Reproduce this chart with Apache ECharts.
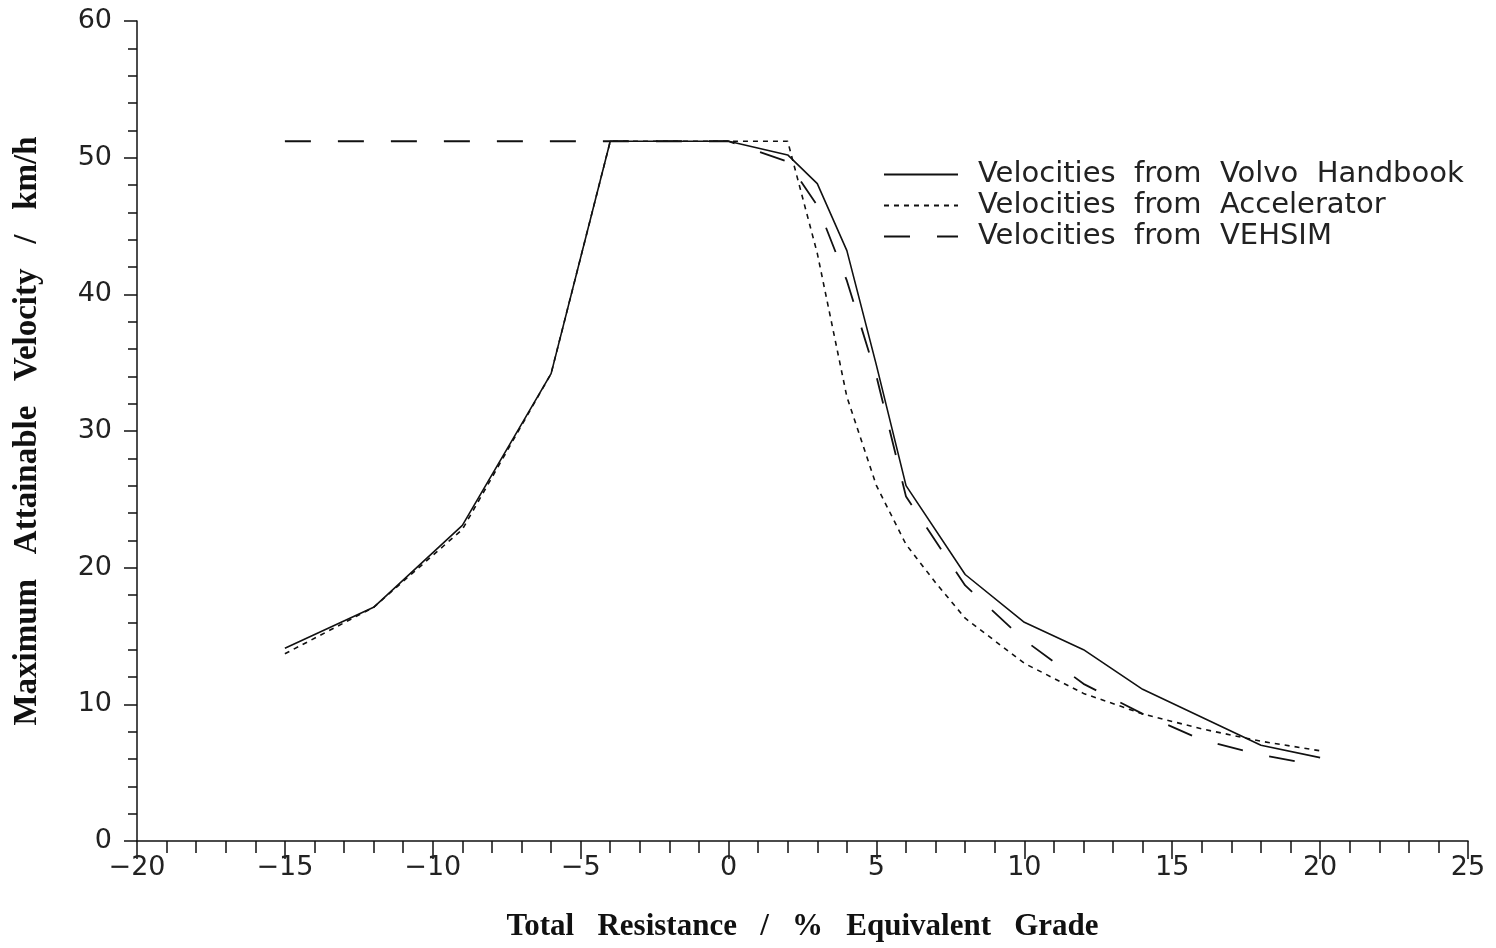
<!DOCTYPE html>
<html>
<head>
<meta charset="utf-8">
<script src="https://cdn.jsdelivr.net/npm/echarts@6/dist/echarts.min.js"></script>
<style>
  html, body { margin: 0; padding: 0; background: #fff; }
  #chart { width: 1496px; height: 948px; }
</style>
</head>
<body>
<div id="chart"></div>
<script>
// grade (% equivalent) vs max attainable velocity (km/h)
const volvoX = [-15, -12, -9, -6, -4, 0, 2, 3, 4, 5, 6, 8, 10, 12, 14, 18, 20];
const volvoY = [14.1, 17.1, 23.1, 34.2, 51.2, 51.2, 50.2, 48.1, 43.2, 34.8, 26.0, 19.5, 16.0, 14.0, 11.1, 7.0, 6.1];

const accelX = [-15, -12, -9, -6, -4, 0, 2, 3, 4, 5, 6, 7, 8, 10, 12, 14, 16, 18, 20];
const accelY = [13.7, 17.1, 22.8, 34.2, 51.2, 51.2, 51.2, 43.0, 32.5, 26.0, 21.7, 18.9, 16.3, 13.0, 10.8, 9.3, 8.2, 7.3, 6.6];

const vehsimX = [-15, 0, 2, 3, 4, 5, 6, 8, 10, 12, 14, 16, 18, 20];
const vehsimY = [51.2, 51.2, 49.7, 46.5, 41.0, 34.0, 25.2, 18.7, 14.7, 11.5, 9.3, 7.4, 6.3, 5.5];

const seriesNames = [
  "Velocities  from  Volvo  Handbook",
  "Velocities  from  Accelerator",
  "Velocities  from  VEHSIM",
];

const pairs = (xs, ys) => xs.map((x, i) => [x, ys[i]]);

const chart = echarts.init(document.getElementById("chart"));

const ink = "#111";
const tickFont = {
  fontFamily: "DejaVu Sans",
  fontSize: 27,
  color: "#222",
};
const titleFont = {
  fontFamily: "Liberation Serif",
  fontWeight: "bold",
  color: ink,
};

chart.setOption({
  animation: false,
  grid: { left: 137, right: 28, top: 21, bottom: 107, outerBoundsMode: "none" },
  legend: {
    left: 878,
    top: 155,
    orient: "vertical",
    itemWidth: 74,
    itemHeight: 12,
    itemGap: 2,
    itemStyle: { opacity: 0 },
    textStyle: { fontFamily: "DejaVu Sans", fontSize: 29, color: "#222", padding: [0, 0, 0, 15] },
    data: seriesNames,
  },
  xAxis: {
    type: "value",
    min: -20,
    max: 25,
    interval: 5,
    name: "Total   Resistance   /   %   Equivalent   Grade",
    nameLocation: "middle",
    nameGap: 70,
    nameTextStyle: { ...titleFont, fontSize: 31 },
    axisLine: { lineStyle: { color: ink, width: 1.5 } },
    axisTick: { length: 18, lineStyle: { color: ink, width: 1.5 } },
    minorTick: { show: true, splitNumber: 5, length: 12, lineStyle: { color: ink, width: 1.5 } },
    splitLine: { show: false },
    axisLabel: {
      ...tickFont,
      margin: 13,
      formatter: (v) => (v < 0 ? "\u2212" + Math.abs(v) : String(v)),
    },
  },
  yAxis: {
    type: "value",
    min: 0,
    max: 60,
    interval: 10,
    name: "Maximum   Attainable   Velocity   /   km/h",
    nameLocation: "middle",
    nameGap: 93,
    nameTextStyle: { ...titleFont, fontSize: 33 },
    axisLine: { show: true, onZero: false, lineStyle: { color: ink, width: 1.5 } },
    axisTick: { length: 13, lineStyle: { color: ink, width: 1.5 } },
    minorTick: { show: true, splitNumber: 5, length: 9, lineStyle: { color: ink, width: 1.5 } },
    splitLine: { show: false },
    axisLabel: { ...tickFont, margin: 25 },
  },
  series: [
    {
      name: seriesNames[0],
      type: "line",
      data: pairs(volvoX, volvoY),
      symbol: "none",
      itemStyle: { color: ink },
      lineStyle: { color: ink, width: 1.6, type: "solid" },
    },
    {
      name: seriesNames[1],
      type: "line",
      data: pairs(accelX, accelY),
      symbol: "none",
      itemStyle: { color: ink },
      lineStyle: { color: ink, width: 1.6, type: [5, 5] },
    },
    {
      name: seriesNames[2],
      type: "line",
      data: pairs(vehsimX, vehsimY),
      symbol: "none",
      itemStyle: { color: ink },
      lineStyle: { color: ink, width: 1.8, type: [26, 27] },
    },
  ],
});
</script>
</body>
</html>
